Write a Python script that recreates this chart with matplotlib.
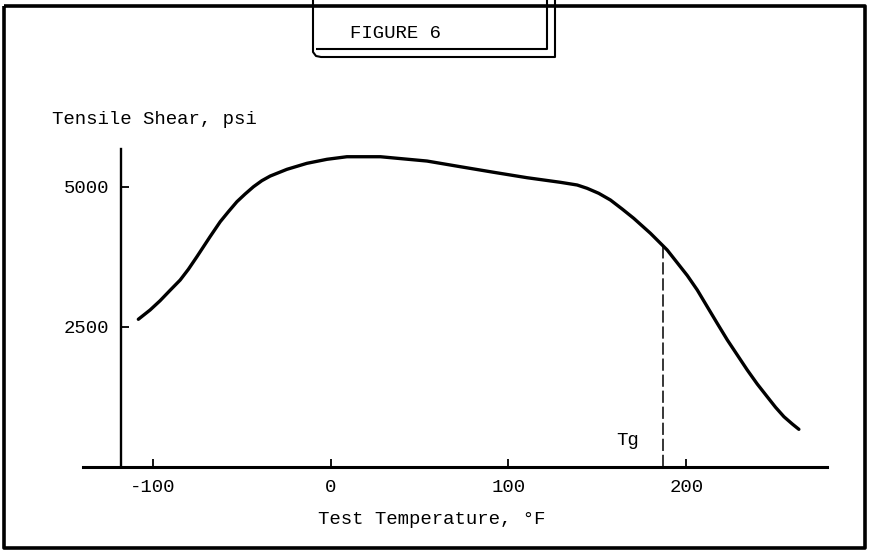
import matplotlib
matplotlib.use("Agg")
import matplotlib.pyplot as plt
from matplotlib.lines import Line2D
import numpy as np

plt.rcParams['font.family'] = ['Liberation Mono', 'DejaVu Sans Mono']

# values
temp_f = [-108.0, -101.4, -95.8, -90.2, -84.5, -79.9, -75.1, -71.4, -67.7, -62.0,
          -57.4, -52.6, -48.0, -43.3, -38.6, -33.9, -24.5, -13.3, -2.0, 9.2,
          28.0, 54.2, 72.9, 91.7, 110.5, 129.2, 138.6, 144.2, 150.7, 157.3,
          163.9, 170.4, 179.8, 189.2, 194.8, 200.5, 206.1, 211.7, 217.3, 223.0,
          228.6, 234.2, 239.8, 245.4, 250.1, 254.8, 259.5, 263.2]
shear_psi = [2629, 2795, 2960, 3145, 3330, 3521, 3746, 3925, 4104, 4371,
             4550, 4729, 4866, 4996, 5104, 5187, 5307, 5414, 5486, 5532,
             5532, 5455, 5354, 5254, 5157, 5075, 5027, 4968, 4879, 4759,
             4598, 4432, 4164, 3866, 3640, 3410, 3152, 2854, 2557, 2259,
             1991, 1723, 1473, 1246, 1057, 889, 759, 664]
tg = 187
x_ticks = [-100, 0, 100, 200]
y_ticks = [2500, 5000]

W, H = 870, 552
fig = plt.figure(figsize=(W / 100, H / 100), dpi=100)
fig.patch.set_facecolor('white')


def px(x, y):
    # pixel position -> figure fraction
    return x / W, 1 - y / H


# plot area (x axis line runs 83..827 px, zero at y=466.5 px)
l, b = px(83, 466.5)
r, t = px(827, 149)
ax = fig.add_axes([l, b, r - l, t - b])
ax.set_xlim(-139.1, 279.0)
ax.set_ylim(0, 5670)

ax.plot(temp_f, shear_psi, color='black', lw=2.4, solid_capstyle='round',
        solid_joinstyle='round')

tg_val = np.interp(tg, temp_f, shear_psi)
ax.plot([tg, tg], [0, tg_val], color='black', lw=1.1, dashes=(8, 2.5))
ax.text(tg - 20, 470, 'Tg', fontsize=13.7, ha='center', va='center')

for side in ['top', 'right']:
    ax.spines[side].set_visible(False)
ax.spines['left'].set_position(('data', -117.9))
ax.spines['left'].set_bounds(0, 5670)
ax.spines['left'].set_linewidth(1.7)
ax.spines['bottom'].set_linewidth(2.2)

ax.set_xticks(x_ticks)
ax.set_yticks(y_ticks)
ax.set_xticklabels([str(v) for v in x_ticks])
ax.set_yticklabels([str(v) for v in y_ticks])
ax.tick_params(axis='x', direction='in', length=5.8, width=1.3, pad=9, labelsize=13.7)
ax.tick_params(axis='y', direction='in', length=5.5, width=1.3, pad=8, labelsize=13.7)
ax.patch.set_alpha(0)

# axis titles
fig.text(*px(52, 120), 'Tensile Shear, psi', fontsize=13.7, ha='left', va='center')
fig.text(*px(432, 520), 'Test Temperature, \u00b0F', fontsize=13.7, ha='center', va='center')


def seg(xs, ys, lw):
    fx = [x / W for x in xs]
    fy = [1 - y / H for y in ys]
    fig.add_artist(Line2D(fx, fy, transform=fig.transFigure, color='black', lw=lw,
                          solid_capstyle='butt', solid_joinstyle='round'))


# outer frame
seg([4, 865, 865, 4, 4], [6, 6, 548, 548, 6], 2.6)

# title box with drop shadow
seg([547, 547, 316], [0, 49, 49], 1.5)
seg([313, 313, 316, 321, 555, 555], [0, 52, 56, 57, 57, 0], 1.5)
fig.text(*px(396, 33), 'FIGURE 6', fontsize=13.7, ha='center', va='center')

fig.savefig('out.png', dpi=100)
